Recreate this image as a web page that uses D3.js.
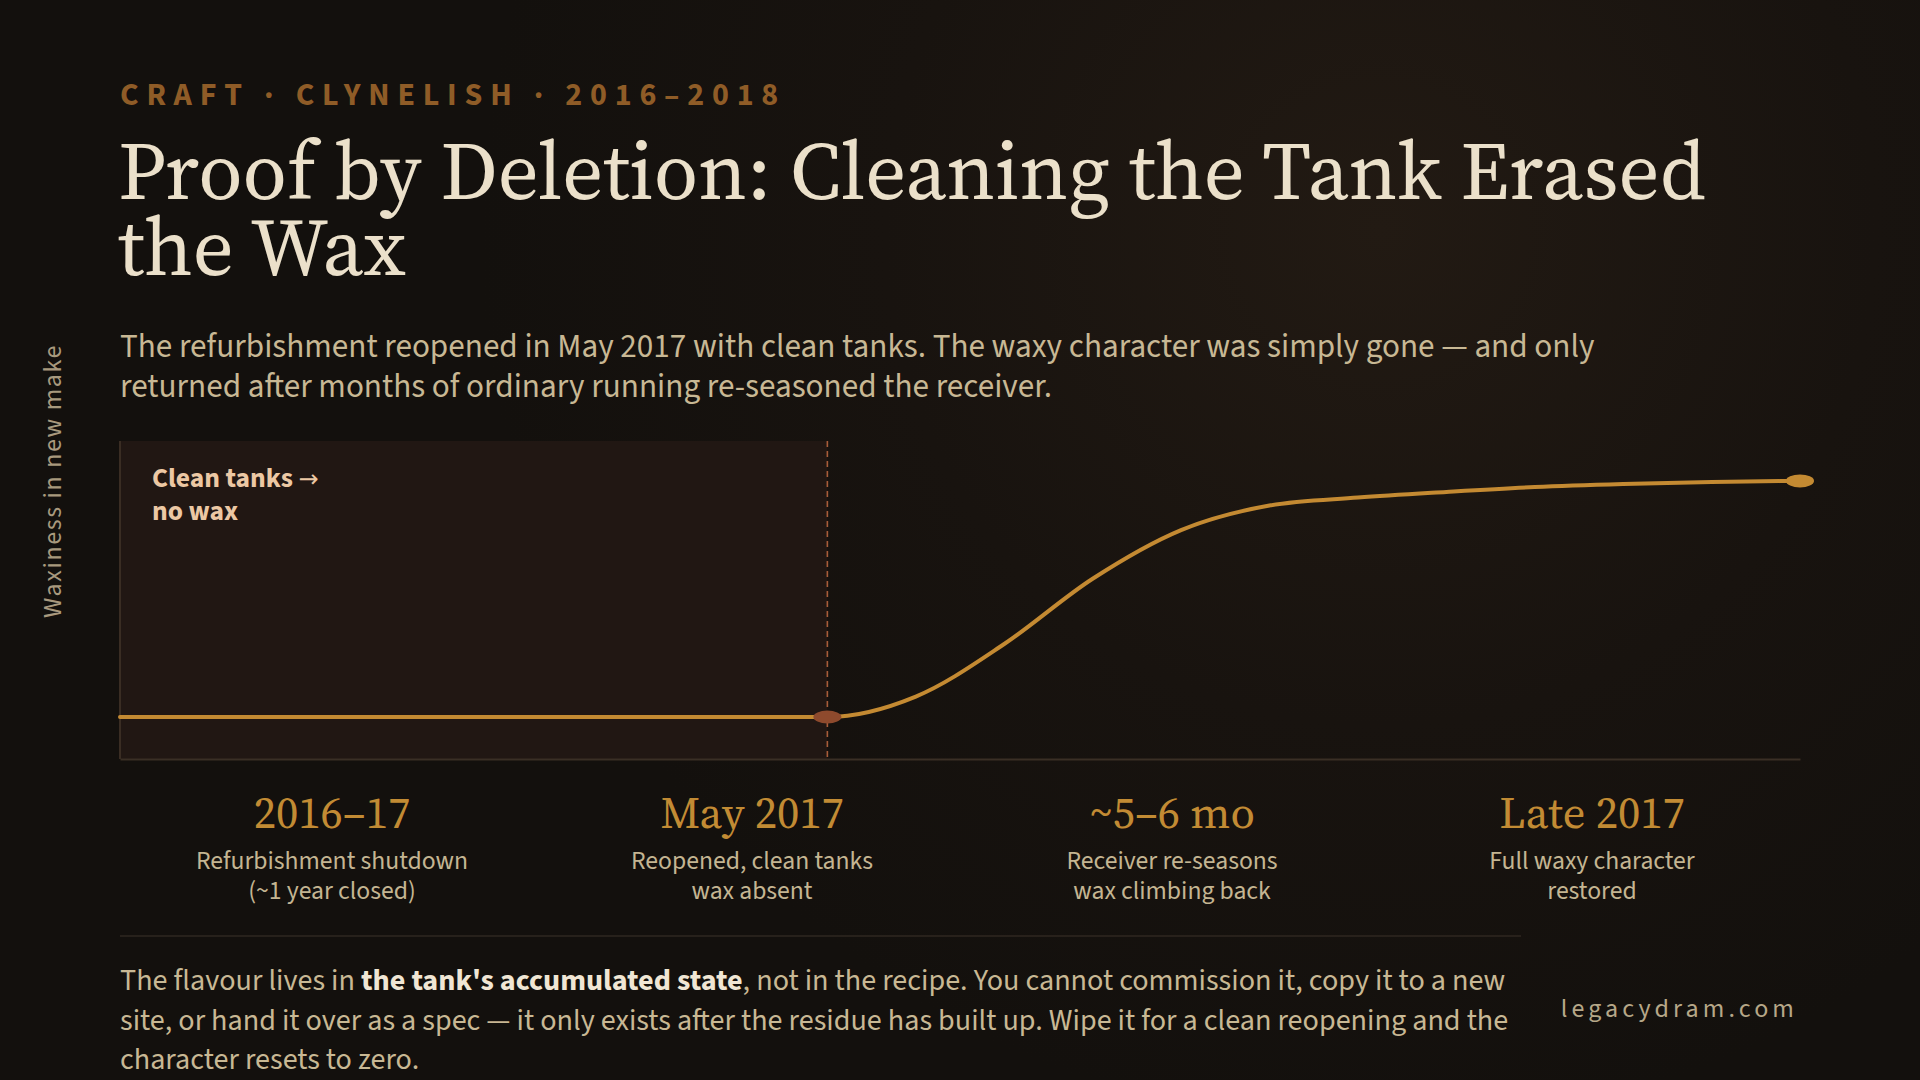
<!DOCTYPE html>
<html>
<head>
<meta charset="utf-8">
<script src="https://cdn.jsdelivr.net/npm/d3@7/dist/d3.min.js"></script>
<style>
  html, body { margin: 0; padding: 0; background: #14110e; }
  svg { display: block; }
</style>
</head>
<body>
<svg id="chart" width="1920" height="1080"></svg>
<script>
// ---- data ----
var months = [0, 8, 9, 10, 11, 12, 13, 14, 15, 16, 17, 18, 19];
var waxiness = [0, 0, 0.08, 0.285, 0.54, 0.73, 0.826, 0.857, 0.879, 0.898, 0.91, 0.918, 0.922];
var reopenMonth = 8;
var milestoneTitles = ["2016–17", "May 2017", "~5–6 mo", "Late 2017"];
var milestoneNotes = [
    ["Refurbishment shutdown", "(~1 year closed)"],
    ["Reopened, clean tanks", "wax absent"],
    ["Receiver re-seasons", "wax climbing back"],
    ["Full waxy character", "restored"]
];
var kicker = "CRAFT · CLYNELISH · 2016–2018";
var titleLines = ["Proof by Deletion: Cleaning the Tank Erased", "the Wax"];
var deckLines = [
    "The refurbishment reopened in May 2017 with clean tanks. The waxy character was simply gone — and only",
    "returned after months of ordinary running re-seasoned the receiver."
];
var noteLines = [["Clean tanks ", "→"], ["no wax", ""]];
var footLines = [
    [["The flavour lives in ", 0], ["the tank's accumulated state", 1], [", not in the recipe. You cannot commission it, copy it to a new", 0]],
    [["site, or hand it over as a spec — it only exists after the residue has built up. Wipe it for a clean reopening and the", 0]],
    [["character resets to zero.", 0]]
];
var yLabel = "Waxiness in new make";
var site = "legacydram.com";

var sans = "'Source Sans 3', 'Source Sans Pro', Lato, 'Noto Sans', sans-serif";
var serif = "'Source Serif 4', 'Source Serif Pro', 'Liberation Serif', 'DejaVu Serif', serif";

var svg = d3.select("#chart");

// background glow
var defs = svg.append("defs");
var glow = defs.append("radialGradient")
    .attr("id", "glow")
    .attr("gradientUnits", "userSpaceOnUse")
    .attr("cx", 1380).attr("cy", 230).attr("r", 900);
glow.append("stop").attr("offset", "0").attr("stop-color", "#221a13");
glow.append("stop").attr("offset", "0.55").attr("stop-color", "#18130f");
glow.append("stop").attr("offset", "1").attr("stop-color", "#13100d");
svg.append("rect").attr("width", 1920).attr("height", 1080).attr("fill", "url(#glow)");

// header
svg.append("text")
    .attr("x", 120).attr("y", 105)
    .attr("font-family", sans).attr("font-weight", 700)
    .attr("font-size", 32).attr("letter-spacing", "7.8px")
    .attr("fill", "#8f5c27")
    .text(kicker);

svg.append("g").selectAll("text")
    .data(titleLines).join("text")
    .attr("x", 118)
    .attr("y", function (d, i) { return 199 + i * 76; })
    .attr("font-family", serif)
    .attr("font-size", 80.8)
    .attr("fill", "#ebe0ca")
    .text(function (d) { return d; });

svg.append("g").selectAll("text")
    .data(deckLines).join("text")
    .attr("x", 120)
    .attr("y", function (d, i) { return 357 + i * 40; })
    .attr("font-family", sans)
    .attr("font-size", 33.2)
    .attr("fill", "#c8b894")
    .text(function (d) { return d; });

// chart
var x = d3.scaleLinear().domain([0, 19]).range([120, 1800]);
var y = d3.scaleLinear().domain([-0.164, 1.078]).range([759, 441]);

svg.append("rect")
    .attr("x", x(0)).attr("y", y(1.078))
    .attr("width", x(reopenMonth) - x(0))
    .attr("height", y(-0.164) - y(1.078))
    .attr("fill", "#211713");

svg.append("line")
    .attr("x1", x(0)).attr("x2", x(0))
    .attr("y1", y(1.078)).attr("y2", y(-0.164))
    .attr("stroke", "#3a2d23").attr("stroke-width", 2);

var xAxis = svg.append("g")
    .attr("transform", "translate(0," + y(-0.164) + ")")
    .call(d3.axisBottom(x).ticks(0).tickSize(0).tickSizeOuter(0));
xAxis.select(".domain").attr("stroke", "#3a2f25").attr("stroke-width", 2);
xAxis.selectAll(".tick").remove();

svg.append("line")
    .attr("x1", x(reopenMonth)).attr("x2", x(reopenMonth))
    .attr("y1", y(1.078)).attr("y2", y(-0.164))
    .attr("stroke", "#a85c3a").attr("stroke-width", 1.6)
    .attr("stroke-dasharray", "6,4");

var pts = months.map(function (m, i) { return { m: m, v: waxiness[i] }; });
var line = d3.line()
    .x(function (d) { return x(d.m); })
    .y(function (d) { return y(d.v); })
    .curve(d3.curveMonotoneX);

svg.append("path")
    .attr("d", line(pts))
    .attr("fill", "none")
    .attr("stroke", "#c48a32")
    .attr("stroke-width", 4)
    .attr("stroke-linecap", "round");

svg.append("ellipse")
    .attr("cx", x(reopenMonth)).attr("cy", y(0))
    .attr("rx", 14).attr("ry", 6.5)
    .attr("fill", "#8e4a2d");

var last = pts[pts.length - 1];
svg.append("ellipse")
    .attr("cx", x(last.m)).attr("cy", y(last.v))
    .attr("rx", 14).attr("ry", 6.5)
    .attr("fill", "#c48a32");

var note = svg.append("g").selectAll("text")
    .data(noteLines).join("text")
    .attr("x", 152)
    .attr("y", function (d, i) { return 487 + i * 33; })
    .attr("font-family", sans).attr("font-weight", 700)
    .attr("font-size", 27.5)
    .attr("fill", "#ecc8a4");
note.append("tspan").text(function (d) { return d[0]; });
note.append("tspan")
    .attr("font-family", "'DejaVu Sans', sans-serif")
    .attr("font-weight", 400)
    .attr("font-size", 24)
    .text(function (d) { return d[1]; });

svg.append("text")
    .attr("transform", "translate(61," + 481 + ") rotate(-90)")
    .attr("text-anchor", "middle")
    .attr("font-family", sans)
    .attr("font-size", 26).attr("letter-spacing", "1.6px")
    .attr("fill", "#a8997e")
    .text(yLabel);

// milestones
var band = d3.scaleBand().domain(milestoneTitles).range([120, 1800]);
var ms = svg.append("g").selectAll("g")
    .data(milestoneTitles).join("g")
    .attr("transform", function (d) { return "translate(" + (band(d) + band.bandwidth() / 2 + 2) + ",0)"; });
ms.append("text")
    .attr("y", 828)
    .attr("text-anchor", "middle")
    .attr("font-family", serif)
    .attr("font-size", 44.5)
    .attr("fill", "#c28b34")
    .text(function (d) { return d; });
ms.each(function (d, i) {
    d3.select(this).selectAll("text.note")
        .data(milestoneNotes[i]).join("text")
        .attr("class", "note")
        .attr("y", function (t, j) { return 869 + j * 30; })
        .attr("text-anchor", "middle")
        .attr("font-family", sans)
        .attr("font-size", 25.7)
        .attr("fill", "#c4b592")
        .text(function (t) { return t; });
});

// footer
svg.append("line")
    .attr("x1", 120).attr("x2", 1521)
    .attr("y1", 936).attr("y2", 936)
    .attr("stroke", "#2f2720").attr("stroke-width", 1.5);

var foot = svg.append("g").selectAll("text")
    .data(footLines).join("text")
    .attr("x", 120)
    .attr("y", function (d, i) { return 990 + i * 39.5; })
    .attr("font-family", sans)
    .attr("font-size", 30.15)
    .attr("fill", "#c8b894");
foot.selectAll("tspan")
    .data(function (d) { return d; }).join("tspan")
    .attr("font-weight", function (d) { return d[1] ? 700 : 400; })
    .attr("fill", function (d) { return d[1] ? "#f0e6d4" : "#c8b894"; })
    .text(function (d) { return d[0]; });

svg.append("text")
    .attr("x", 1798).attr("y", 1017)
    .attr("text-anchor", "end")
    .attr("font-family", sans)
    .attr("font-size", 26).attr("letter-spacing", "4.1px")
    .attr("fill", "#b6a788")
    .text(site);
</script>
</body>
</html>
